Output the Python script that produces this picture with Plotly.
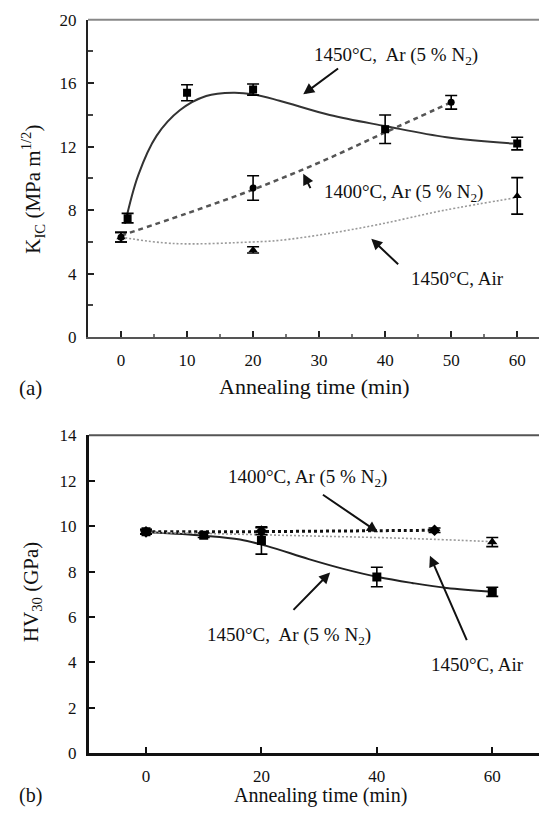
import plotly.graph_objects as go

# ---------------- (a) K_IC data ----------------
t_a_1450ar = [1, 10, 20, 40, 60]
k_1450ar = [7.5, 15.4, 15.6, 13.1, 12.2]
ke_1450ar = [0.3, 0.5, 0.35, 0.9, 0.4]

t_a_1400ar = [0, 20, 50]
k_1400ar = [6.3, 9.4, 14.8]
ke_1400ar = [0.3, 0.77, 0.43]

t_a_air = [0, 20, 60]
k_air = [6.3, 5.5, 8.9]
ke_air = [0.3, 0.2, 1.15]

# fitted curves (a)
fit_a_1450ar_x = [0.6, 2.6, 5.4, 8.9, 12.9, 17, 20, 24, 31.6, 40, 49.3, 59.4]
fit_a_1450ar_y = [7.15, 10.2, 12.7, 14.3, 15.2, 15.4, 15.3, 14.9, 14.0, 13.3, 12.6, 12.2]
fit_a_1400ar_x = [0, 10, 20, 30, 40, 50]
fit_a_1400ar_y = [6.4, 7.8, 9.3, 11.0, 12.9, 14.8]
fit_a_air_x = [0, 8, 20, 24, 31, 39, 49, 60]
fit_a_air_y = [6.3, 5.9, 6.0, 6.1, 6.5, 7.1, 8.0, 8.8]

# ---------------- (b) HV30 data ----------------
t_b_1450ar = [0, 10, 20, 40, 60]
hv_1450ar = [9.75, 9.6, 9.37, 7.76, 7.11]
hve_1450ar = [0.1, 0.1, 0.6, 0.43, 0.2]

t_b_1400ar = [0, 20, 50]
hv_1400ar = [9.75, 9.78, 9.82]
hve_1400ar = [0.1, 0.15, 0.1]

t_b_air = [0, 60]
hv_air = [9.75, 9.3]
hve_air = [0.1, 0.2]

fit_b_1450ar_x = [0.8, 10, 16.3, 21, 28.2, 34.2, 40.2, 46.1, 52.1, 60]
fit_b_1450ar_y = [9.73, 9.58, 9.41, 9.12, 8.55, 8.12, 7.76, 7.5, 7.28, 7.11]
fit_b_1400ar_x = [0, 10, 20, 30, 40, 50]
fit_b_1400ar_y = [9.75, 9.75, 9.76, 9.78, 9.8, 9.82]
fit_b_air_x = [0, 10, 20, 30, 40, 50, 60]
fit_b_air_y = [9.72, 9.68, 9.62, 9.56, 9.5, 9.42, 9.32]

FONT = "Liberation Serif"
W, H = 539, 816

fig = go.Figure()

def add_series(x, y, e, symbol, size, xa, ya, color="black"):
    fig.add_trace(go.Scatter(
        x=x, y=y, mode="markers", xaxis=xa, yaxis=ya,
        marker=dict(symbol=symbol, size=size, color=color),
        error_y=dict(type="data", array=e, visible=True, color="black",
                     thickness=1.6, width=6),
        showlegend=False, hoverinfo="skip"))

def add_line(x, y, dash, width, color, xa, ya):
    fig.add_trace(go.Scatter(
        x=x, y=y, mode="lines", xaxis=xa, yaxis=ya,
        line=dict(shape="spline", smoothing=1.0, dash=dash, width=width, color=color),
        showlegend=False, hoverinfo="skip"))

# (a)
add_line(fit_a_1450ar_x, fit_a_1450ar_y, "solid", 2, "#333333", "x", "y")
add_line(fit_a_1400ar_x, fit_a_1400ar_y, "5px,4px", 2.5, "#555555", "x", "y")
add_line(fit_a_air_x, fit_a_air_y, "2px,2px", 1.6, "#999999", "x", "y")
add_series(t_a_1450ar, k_1450ar, ke_1450ar, "square", 8, "x", "y")
add_series(t_a_1400ar, k_1400ar, ke_1400ar, "circle", 7, "x", "y")
add_series(t_a_air, k_air, ke_air, "triangle-up", 8, "x", "y")

# (b)
add_line(fit_b_1450ar_x, fit_b_1450ar_y, "solid", 2, "#222222", "x2", "y2")
add_line(fit_b_1400ar_x, fit_b_1400ar_y, "3px,3px", 3, "#111111", "x2", "y2")
add_line(fit_b_air_x, fit_b_air_y, "2px,2px", 1.6, "#999999", "x2", "y2")
add_series(t_b_1450ar, hv_1450ar, hve_1450ar, "square", 9, "x2", "y2")
add_series(t_b_1400ar, hv_1400ar, hve_1400ar, "diamond", 9, "x2", "y2")
add_series(t_b_air, hv_air, hve_air, "triangle-up", 9, "x2", "y2")

tickfont = dict(family=FONT, size=17, color="#111111")

fig.update_layout(
    width=W, height=H, margin=dict(l=0, r=0, t=0, b=0),
    paper_bgcolor="white", plot_bgcolor="white",
    xaxis=dict(domain=[88 / W, 1], range=[-5.0, 63.3], anchor="y",
               tickvals=[0, 10, 20, 30, 40, 50, 60], ticks="inside", ticklen=6,
               tickwidth=2, tickcolor="#222", showgrid=False, zeroline=False,
               showline=True, linecolor="#555", linewidth=2,
               minor=dict(dtick=5, tick0=0, ticks="inside", ticklen=3, tickcolor="#777"),
               tickfont=tickfont, ticklabelstandoff=6),
    yaxis=dict(domain=[1 - 336 / H, 1 - 11 / H], range=[0, 20], anchor="x",
               tickvals=[0, 4, 8, 12, 16, 20], ticks="inside", ticklen=6,
               tickwidth=2, tickcolor="#222", showgrid=False, zeroline=False,
               showline=True, linecolor="#222", linewidth=2,
               minor=dict(dtick=2, tick0=0, ticks="inside", ticklen=5, tickcolor="#444"),
               tickfont=tickfont, ticklabelstandoff=6),
    xaxis2=dict(domain=[89 / W, 1], range=[-9.88, 68.1], anchor="y2",
                tickvals=[0, 20, 40, 60], ticks="inside", ticklen=6,
                tickwidth=2, tickcolor="#111", showgrid=False, zeroline=False,
                showline=True, linecolor="#111", linewidth=3,
                tickfont=tickfont, ticklabelstandoff=5),
    yaxis2=dict(domain=[1 - 762 / H, 1 - 436.5 / H], range=[0, 14], anchor="x2",
                tickvals=[0, 2, 4, 6, 8, 10, 12, 14], ticks="inside", ticklen=6,
                tickwidth=2, tickcolor="#111", showgrid=False, zeroline=False,
                showline=True, linecolor="#111", linewidth=3,
                tickfont=tickfont, ticklabelstandoff=6),
)

# top borders (the right edge of each frame lies outside the picture)
fig.add_shape(type="line", xref="paper", yref="paper", x0=88 / W, x1=1,
              y0=1 - 11 / H, y1=1 - 11 / H, line=dict(color="#888", width=2))
fig.add_shape(type="line", xref="paper", yref="paper", x0=89 / W, x1=1,
              y0=1 - 436.5 / H, y1=1 - 436.5 / H, line=dict(color="#555", width=2))

ann = []
def text(x, y, s, size=19, xref="x", yref="y", angle=0):
    ann.append(dict(x=x, y=y, xref=xref, yref=yref, text=s, showarrow=False,
                    textangle=angle, font=dict(family=FONT, size=size, color="#111"),
                    xanchor="center", yanchor="middle"))

def arrow(hx, hy, tx, ty, xref="x", yref="y", width=2):
    ann.append(dict(x=hx, y=hy, ax=tx, ay=ty, xref=xref, yref=yref,
                    axref=xref, ayref=yref, text="", showarrow=True,
                    arrowhead=2, arrowsize=1.1, arrowwidth=width, arrowcolor="#111"))

# (a) labels
text(41.6, 17.7, "1450°C,  Ar (5 % N<sub>2</sub>)")
arrow(27.6, 15.3, 33.1, 17.0)
text(42.8, 9.1, "1400°C, Ar (5 % N<sub>2</sub>)")
arrow(27.6, 10.3, 28.8, 9.3)
text(50.9, 3.67, "1450°C, Air")
arrow(37.9, 6.2, 42.2, 4.5)

# (b) labels
text(27.9, 12.1, "1400°C, Ar (5 % N<sub>2</sub>)", xref="x2", yref="y2")
arrow(40.2, 9.73, 30.4, 11.43, xref="x2", yref="y2")
text(24.8, 5.15, "1450°C,  Ar (5 % N<sub>2</sub>)", xref="x2", yref="y2")
arrow(31.9, 7.96, 25.3, 6.25, xref="x2", yref="y2")
text(57.4, 3.89, "1450°C, Air", xref="x2", yref="y2")
arrow(49.2, 8.7, 55.7, 4.92, xref="x2", yref="y2")

# axis titles and panel letters (paper coordinates from pixel positions)
text(314 / W, 1 - 387 / H, "Annealing time (min)", size=22, xref="paper", yref="paper")
text(30 / W, 1 - 388 / H, "(a)", size=21, xref="paper", yref="paper")
text(33 / W, 1 - 185 / H, "K<sub>IC</sub> (MPa m<sup>1/2</sup>)", size=21,
     xref="paper", yref="paper", angle=-90)

text(320 / W, 1 - 805 / H, "Annealing time (min)", size=20, xref="paper", yref="paper")
text(30 / W, 1 - 805 / H, "(b)", size=20, xref="paper", yref="paper")
text(32 / W, 1 - 597 / H, "HV<sub>30</sub> (GPa)", size=21,
     xref="paper", yref="paper", angle=-90)

fig.update_layout(annotations=ann)

fig.write_html("out.html")
